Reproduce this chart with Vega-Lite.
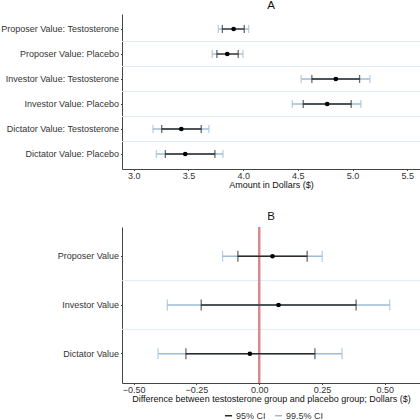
{
  "$schema": "https://vega.github.io/schema/vega-lite/v6.json",
  "padding": {"top": -1, "left": 0, "right": 0, "bottom": 0},
  "spacing": 22,
  "background": "white",
  "datasets": {
    "a": [
      {"label": "Proposer Value: Testosterone", "est": 3.913, "lo95": 3.81, "hi95": 4.01, "lo995": 3.773, "hi995": 4.05},
      {"label": "Proposer Value: Placebo", "est": 3.855, "lo95": 3.76, "hi95": 3.955, "lo995": 3.718, "hi995": 3.998},
      {"label": "Investor Value: Testosterone", "est": 4.847, "lo95": 4.628, "hi95": 5.064, "lo995": 4.53, "hi995": 5.158},
      {"label": "Investor Value: Placebo", "est": 4.768, "lo95": 4.549, "hi95": 4.987, "lo995": 4.449, "hi995": 5.076},
      {"label": "Dictator Value: Testosterone", "est": 3.435, "lo95": 3.256, "hi95": 3.617, "lo995": 3.176, "hi995": 3.687},
      {"label": "Dictator Value: Placebo", "est": 3.471, "lo95": 3.289, "hi95": 3.742, "lo995": 3.207, "hi995": 3.816}
    ],
    "b": [
      {"label": "Proposer Value", "est": 0.053, "lo95": -0.085, "hi95": 0.191, "lo995": -0.146, "hi995": 0.251},
      {"label": "Investor Value", "est": 0.077, "lo95": -0.231, "hi95": 0.386, "lo995": -0.366, "hi995": 0.52},
      {"label": "Dictator Value", "est": -0.037, "lo95": -0.292, "hi95": 0.222, "lo995": -0.403, "hi995": 0.33}
    ]
  },
  "vconcat": [
    {
      "title": {"text": "A", "offset": 2.7},
      "width": 298,
      "height": 155,
      "data": {"name": "a"},
      "encoding": {
        "y": {
          "field": "label", "type": "nominal",
          "sort": ["Proposer Value: Testosterone", "Proposer Value: Placebo", "Investor Value: Testosterone", "Investor Value: Placebo", "Dictator Value: Testosterone", "Dictator Value: Placebo"],
          "scale": {"type": "band", "paddingInner": 0, "paddingOuter": 0.1},
          "axis": {"title": null, "minExtent": 120, "labelPadding": 2}
        }
      },
      "layer": [
        {
          "transform": [{"filter": "datum.label !== 'Dictator Value: Placebo'"}],
          "mark": {"type": "rule", "color": "#dcecf5", "strokeWidth": 1},
          "encoding": {"y": {"field": "label", "type": "nominal", "bandPosition": 1}}
        },
        {
          "mark": {"type": "rule", "strokeWidth": 1.3},
          "encoding": {
            "x": {"field": "lo995", "type": "quantitative", "scale": {"domain": [2.893, 5.616], "nice": false, "zero": false},
                  "axis": {"values": [3.0, 3.5, 4.0, 4.5, 5.0, 5.5], "format": ".1f", "title": "Amount in Dollars ($)"}},
            "x2": {"field": "hi995"},
            "color": {"datum": "99.5% CI", "type": "nominal",
                      "scale": {"domain": ["95% CI", "99.5% CI"], "range": ["#2b2b2b", "#9dbcd6"]},
                      "legend": {"orient": "none", "legendX": 102, "legendY": 397, "direction": "horizontal", "title": null,
                                 "symbolType": "stroke", "symbolSize": 50, "symbolStrokeWidth": 1.5, "labelFontSize": 9,
                                 "labelFont": "Liberation Sans", "labelColor": "#333", "columnPadding": 5, "labelOffset": 3}}
          }
        },
        {"mark": {"type": "tick", "color": "#9dbcd6", "size": 8, "thickness": 1.3}, "encoding": {"x": {"field": "lo995", "type": "quantitative"}}},
        {"mark": {"type": "tick", "color": "#9dbcd6", "size": 8, "thickness": 1.3}, "encoding": {"x": {"field": "hi995", "type": "quantitative"}}},
        {
          "mark": {"type": "rule", "strokeWidth": 1.3},
          "encoding": {
            "x": {"field": "lo95", "type": "quantitative"},
            "x2": {"field": "hi95"},
            "color": {"datum": "95% CI", "type": "nominal"}
          }
        },
        {"mark": {"type": "tick", "color": "#2b2b2b", "size": 8, "thickness": 1.3}, "encoding": {"x": {"field": "lo95", "type": "quantitative"}}},
        {"mark": {"type": "tick", "color": "#2b2b2b", "size": 8, "thickness": 1.3}, "encoding": {"x": {"field": "hi95", "type": "quantitative"}}},
        {"mark": {"type": "point", "filled": true, "color": "black", "size": 22, "opacity": 1}, "encoding": {"x": {"field": "est", "type": "quantitative"}}}
      ]
    },
    {
      "title": {"text": "B", "offset": 3.3},
      "width": 298,
      "height": 156,
      "data": {"name": "b"},
      "encoding": {
        "y": {
          "field": "label", "type": "nominal",
          "sort": ["Proposer Value", "Investor Value", "Dictator Value"],
          "scale": {"type": "band", "paddingInner": 0, "paddingOuter": 0.1},
          "axis": {"title": null, "minExtent": 120, "labelPadding": 2}
        }
      },
      "layer": [
        {
          "transform": [{"filter": "datum.label !== 'Dictator Value'"}],
          "mark": {"type": "rule", "color": "#dcecf5", "strokeWidth": 1},
          "encoding": {"y": {"field": "label", "type": "nominal", "bandPosition": 1}}
        },
        {
          "mark": {"type": "rule", "color": "#d98a90", "strokeWidth": 2},
          "encoding": {"x": {"datum": 0, "type": "quantitative"}, "y": null}
        },
        {
          "mark": {"type": "rule", "strokeWidth": 1.3},
          "encoding": {
            "x": {"field": "lo995", "type": "quantitative", "scale": {"domain": [-0.5466, 0.6406], "nice": false, "zero": false},
                  "axis": {"values": [-0.5, -0.25, 0, 0.25, 0.5], "format": ".2f", "title": "Difference between testosterone group and placebo group; Dollars ($)"}},
            "x2": {"field": "hi995"},
            "color": {"datum": "99.5% CI", "type": "nominal"}
          }
        },
        {"mark": {"type": "tick", "color": "#9dbcd6", "size": 11, "thickness": 1.3}, "encoding": {"x": {"field": "lo995", "type": "quantitative"}}},
        {"mark": {"type": "tick", "color": "#9dbcd6", "size": 11, "thickness": 1.3}, "encoding": {"x": {"field": "hi995", "type": "quantitative"}}},
        {
          "mark": {"type": "rule", "strokeWidth": 1.3},
          "encoding": {
            "x": {"field": "lo95", "type": "quantitative"},
            "x2": {"field": "hi95"},
            "color": {"datum": "95% CI", "type": "nominal"}
          }
        },
        {"mark": {"type": "tick", "color": "#2b2b2b", "size": 11, "thickness": 1.3}, "encoding": {"x": {"field": "lo95", "type": "quantitative"}}},
        {"mark": {"type": "tick", "color": "#2b2b2b", "size": 11, "thickness": 1.3}, "encoding": {"x": {"field": "hi95", "type": "quantitative"}}},
        {"mark": {"type": "point", "filled": true, "color": "black", "size": 22, "opacity": 1}, "encoding": {"x": {"field": "est", "type": "quantitative"}}}
      ]
    }
  ],
  "config": {
    "view": {"stroke": null},
    "axis": {
      "domainColor": "#444", "tickColor": "#444", "labelColor": "#333", "titleColor": "#111",
      "labelFont": "Liberation Sans", "titleFont": "Liberation Sans",
      "labelFontSize": 9, "titleFontSize": 9, "titleFontWeight": "normal",
      "grid": false, "tickSize": 1.5, "labelPadding": 0.5, "titlePadding": 0, "domainWidth": 1
    },
    "title": {"font": "Liberation Sans", "fontSize": 11.5, "fontWeight": "normal", "anchor": "middle", "frame": "group", "color": "#111"}
  }
}
